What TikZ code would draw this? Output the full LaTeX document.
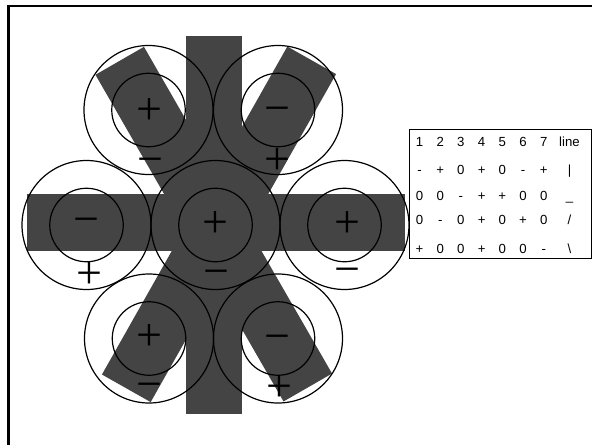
\documentclass[tikz,border=0pt]{standalone}
\usepackage{fontspec}
\newfontfamily\tabfont{Liberation Sans}
\newfontfamily\signfont{Liberation Serif}
\definecolor{bandgray}{HTML}{444444}
\begin{document}
\begin{tikzpicture}[x=1pt,y=-1pt,
  bigc/.style={circle,draw=black,line width=1.2pt,minimum size=129pt,inner sep=0pt},
  smallc/.style={circle,draw=black,line width=1.2pt,minimum size=73.5pt,inner sep=0pt},
  sgn/.style={inner sep=0pt,text height=25pt,text depth=0pt,font=\signfont\fontsize{46}{46}\selectfont},
  cell/.style={anchor=base,inner sep=0pt,font=\tabfont\fontsize{13.2}{15}\selectfont}
]
\useasboundingbox (0,0) rectangle (592,445);

% bands
\fill[bandgray] (186,36) rectangle (242,414);
\fill[bandgray] (27,194) rectangle (405,250.7);
\fill[bandgray] (95.44,74.77) -- (143.96,46.83) -- (332.06,373.53) -- (283.54,401.47) -- cycle;
\fill[bandgray] (287.33,46.52) -- (336.07,74.08) -- (150.67,402.08) -- (101.93,374.52) -- cycle;

% circles
\foreach \n/\x/\y in {C/215.5/225, L/86.5/225, R/344.5/225, UL/148.5/110, UR/278/110, LL/149/338.5, LR/278/338.5}{
  \node[bigc] (\n) at (\x,\y) {};
  \node[smallc] (\n i) at (\x,\y) {};
}

% signs
\node[sgn] (sC1) at (215.8,225) {+};
\node[sgn] (sC2) at (216,274) {−};
\node[sgn] (sL1) at (86,222) {−};
\node[sgn] (sL2) at (89,276) {+};
\node[sgn] (sR1) at (347,224.7) {+};
\node[sgn] (sR2) at (347,272.3) {−};
\node[sgn] (sUL1) at (149,111.5) {+};
\node[sgn] (sUL2) at (150.8,161.7) {−};
\node[sgn] (sUR1) at (277.2,110.7) {−};
\node[sgn] (sUR2) at (277.2,162) {+};
\node[sgn] (sLL1) at (149.2,338) {+};
\node[sgn] (sLL2) at (149.2,386.7) {−};
\node[sgn] (sLR1) at (277,339) {−};
\node[sgn] (sLR2) at (279.2,389) {+};

% frame (top and left edges)
\draw[line width=2.2pt] (8.5,445) -- (8.5,6) -- (592,6);

% table
\draw[line width=0.8pt,fill=white] (409,129) rectangle (591,258);
\foreach \t [count=\i] in {1,2,3,4,5,6,7}
  \node[cell] (ra\i) at ({419.5+(\i-1)*20.7},146.5) {\t};
\node[cell] (ra8) at (569.5,146.5) {line};
\foreach \t [count=\i] in {-,+,0,+,0,-,+}
  \node[cell] (rb\i) at ({419.5+(\i-1)*20.7},174) {\t};
\node[cell] (rb8) at (569.5,174) {|};
\foreach \t [count=\i] in {0,0,-,+,+,0,0}
  \node[cell] (rc8x\i) at ({419.5+(\i-1)*20.7},200.5) {\t};
\node[cell] (rc8) at (569.5,200.5) {\_};
\foreach \t [count=\i] in {0,-,0,+,0,+,0}
  \node[cell] (rd\i) at ({419.5+(\i-1)*20.7},224.8) {\t};
\node[cell] (rd8) at (569.5,224.8) {/};
\foreach \t [count=\i] in {+,0,0,+,0,0,-}
  \node[cell] (re\i) at ({419.5+(\i-1)*20.7},253) {\t};
\node[cell] (re8) at (569.5,253) {\textbackslash};
\end{tikzpicture}
\end{document}
